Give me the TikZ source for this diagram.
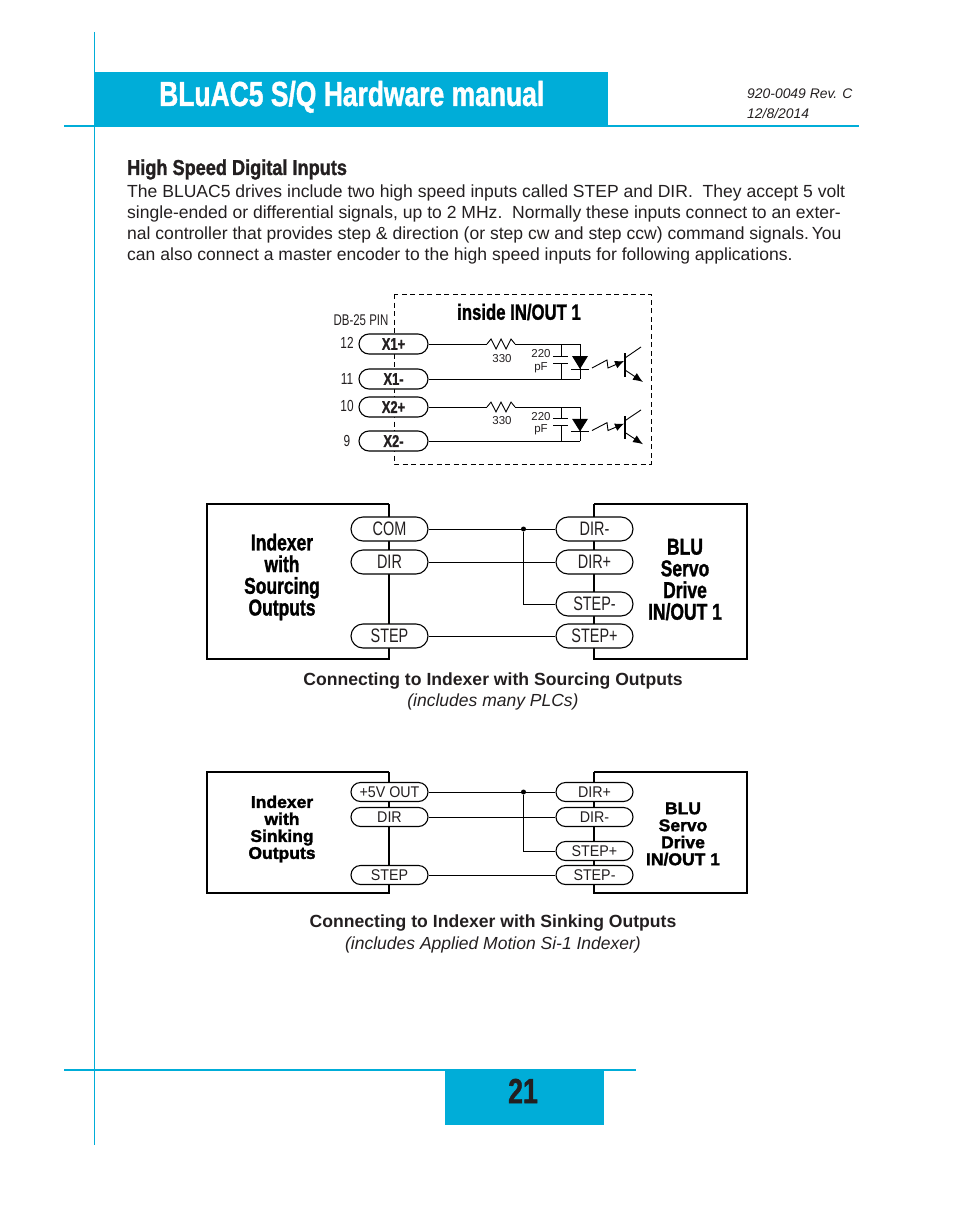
\documentclass[tikz,border=0pt]{standalone}
\usepackage{fontspec}
\setmainfont{Liberation Sans}
\newfontfamily\heavyfont[FakeStretch=0.76,FakeBold=1.2]{Liberation Sans Bold}
\newfontfamily\headfont[FakeStretch=0.84,FakeBold=1.2]{Liberation Sans Bold}
\newfontfamily\blackfont[FakeStretch=1.03,FakeBold=1.8]{Liberation Sans Bold}
\newfontfamily\thinfont[FakeStretch=0.74]{Liberation Sans}
\newfontfamily\plainfont[FakeStretch=0.92]{Liberation Sans}
\usetikzlibrary{calc,shapes.misc,arrows.meta}
\definecolor{blucyan}{RGB}{0,173,216}
\definecolor{ink}{RGB}{35,31,32}
\newcommand{\fsize}[1]{\fontsize{#1}{#1}\selectfont}

\tikzset{
  rule/.style={draw=blucyan,line width=1.3pt},
  band/.style={fill=blucyan},
  bodyline/.style={anchor=base west,inner sep=0,text=ink,font=\fsize{17.55}},
  caption/.style={inner sep=0,text=ink,font=\bfseries\fsize{17.6}},
  subcaption/.style={inner sep=0,text=ink,font=\itshape\fsize{17.5}},
  unit/.style={draw=black,line width=1.1pt},
  wire/.style={draw=black,line width=0.9pt},
  pill/.style={draw=black,fill=white,line width=1.1pt,rounded rectangle,inner sep=0,
    minimum width=77pt,minimum height=24pt,text=ink,font=\thinfont\fsize{19.5}},
  smallpill/.style={pill,minimum height=19pt,font=\plainfont\fsize{15.5}},
  pinpill/.style={pill,minimum width=69pt,minimum height=20pt,font=\heavyfont\fsize{17}},
  pinlabel/.style={inner sep=0,text=ink,font=\thinfont\fsize{16}},
  valuelabel/.style={inner sep=0,text=ink,font=\fsize{11.5}},
  bigtitle/.style={inner sep=0,align=center,text=black,font=\heavyfont\fontsize{23}{21.7}\selectfont},
  boldtitle/.style={inner sep=0,align=center,text=black,font=\blackfont\fontsize{17}{17}\selectfont},
  junction/.style={circle,fill=black,inner sep=0,minimum size=5pt},
}

% OPTO COUPLER, top wire at y=0, bottom wire at y=35
\newcommand{\optopart}{
  \draw[wire] (487,0)--(491,-5)--(496,5)--(501,-5)--(506,5)--(511,-5)--(515,0);
  \draw[wire] (561,0)--(561,12) (553,12)--(568,12);
  \draw[wire] (553,19)--(568,19) (561,19)--(561,35);
  \draw[wire] (580,0)--(580,35);
  \fill[black] (572,12)--(588,12)--(580,25)--cycle;
  \draw[wire] (571,25)--(589,25);
  \draw[wire,-{Latex[length=9pt,width=8pt]}] (592,24)--(607,16)--(608,24)--(624,17);
  \draw[line width=1.1pt] (625,9)--(625,33);
  \draw[wire] (625,14)--(641,3);
  \draw[wire,-{Latex[length=10pt,width=8pt]}] (625,26)--(643,38);
}

\begin{document}
\begin{tikzpicture}[x=1pt,y=-1pt]
  \useasboundingbox (0,0) rectangle (954,1209);

  % PAGE FRAME
  \fill[band] (95,72) rectangle (608,126);
  \fill[band] (445,1070) rectangle (604,1125);
  \draw[rule] (94.7,32)--(94.7,1145);
  \draw[rule] (64,126)--(859,126);
  \draw[rule] (64,1070)--(636,1070);
  \node[anchor=base west,inner sep=0,text=white,font=\heavyfont\fsize{34.8}] (title) at (159,106) {BLuAC5 S/Q Hardware manual};
  \node[anchor=base west,inner sep=0,text=ink,font=\itshape\fsize{13.9}] (revision) at (747,99) {920-0049 Rev. C};
  \node[anchor=base west,inner sep=0,text=ink,font=\itshape\fsize{13.9}] (revdate) at (747,119) {12/8/2014};
  \node[inner sep=0,text=ink,font=\heavyfont\fsize{35}] (pagenum) at (523,1091) {21};

  % TEXT
  \node[anchor=base west,inner sep=0,text=ink,font=\headfont\fsize{21.6}] (heading) at (127,175) {High Speed Digital Inputs};
  \node[bodyline] (lineA) at (127,197) {The BLUAC5 drives include two high speed inputs called STEP and DIR.\ \ They accept 5 volt};
  \node[bodyline] (lineB) at (127,218) {single-ended or differential signals, up to 2 MHz.\ \ Normally these inputs connect to an exter-};
  \node[bodyline] (lineC) at (127,239) {nal controller that provides step \& direction (or step cw and step ccw) command signals.\,You};
  \node[bodyline] (lineD) at (127,260) {can also connect a master encoder to the high speed inputs for following applications.};

  % INSIDE IN/OUT
  \draw[black,line width=1pt,dash pattern=on 5pt off 3.5pt] (394,294) rectangle (651,464);
  \node[inner sep=0,text=black,font=\heavyfont\fsize{22}] (inside) at (519,312) {inside IN/OUT 1};
  \node[pinlabel,font=\thinfont\fsize{15.5}] (dbpin) at (361,320) {DB-25 PIN};
  \node[pinpill] (xoneplus) at (393.5,344) {X1+};
  \node[pinpill] (xoneminus) at (393.5,379) {X1-};
  \node[pinpill] (xtwoplus) at (393.5,407) {X2+};
  \node[pinpill] (xtwominus) at (393.5,441) {X2-};
  \node[pinlabel] (pinA) at (347,343) {12};
  \node[pinlabel] (pinB) at (347,379) {11};
  \node[pinlabel] (pinC) at (347,406) {10};
  \node[pinlabel] (pinD) at (347,441) {9};
  \coordinate (resA) at (487,344);
  \coordinate (resB) at (515,344);
  \coordinate (ledA) at (580,344);
  \coordinate (ledB) at (580,379);
  \coordinate (resC) at (487,407);
  \coordinate (resD) at (515,407);
  \coordinate (ledC) at (580,407);
  \coordinate (ledD) at (580,441);
  \draw[wire] (xoneplus.east)--(resA) (resB)--(ledA);
  \draw[wire] (xoneminus.east)--(ledB);
  \draw[wire] (xtwoplus.east)--(resC) (resD)--(ledC);
  \draw[wire] (xtwominus.east)--(ledD);
  \begin{scope}[shift={(0,344)}]
    \optopart
  \end{scope}
  \begin{scope}[shift={(0,407)},yscale=0.98]
    \optopart
  \end{scope}
  \node[valuelabel] (resvalA) at (502,359) {330};
  \node[valuelabel] (capvalA) at (541,354) {220};
  \node[valuelabel] (capunitA) at (541,368) {pF};
  \node[valuelabel] (resvalB) at (502,421) {330};
  \node[valuelabel] (capvalB) at (541,417) {220};
  \node[valuelabel] (capunitB) at (541,430) {pF};

  % SOURCING
  \draw[unit] (389,504)-|(207,659)-|(389,504);
  \draw[unit] (594,504)-|(747,659)-|(594,504);
  \node[pill] (com) at (389.5,529) {COM};
  \node[pill] (dir) at (389.5,562) {DIR};
  \node[pill] (step) at (389.5,636) {STEP};
  \node[pill] (dirminus) at (594.5,529) {DIR-};
  \node[pill] (dirplus) at (594.5,562) {DIR+};
  \node[pill] (stepminus) at (594.5,604) {STEP-};
  \node[pill] (stepplus) at (594.5,636) {STEP+};
  \node[junction] (joint) at (523.5,529) {};
  \draw[wire] (com.east)--(dirminus.west);
  \draw[wire] (dir.east)--(dirplus.west);
  \draw[wire] (step.east)--(stepplus.west);
  \draw[wire] (joint)|-(stepminus.west);
  \node[bigtitle] (indexer) at (282,577) {Indexer\\with\\Sourcing\\Outputs};
  \node[bigtitle] (drive) at (685,579.5) {BLU\\Servo\\Drive\\IN/OUT 1};
  \node[caption] (capA) at (493,681) {Connecting to Indexer with Sourcing Outputs};
  \node[subcaption] (subA) at (493,702) {(includes many PLCs)};

  % SINKING
  \draw[unit] (389,772)-|(207,893)-|(389,772);
  \draw[unit] (594,772)-|(747,893)-|(594,772);
  \node[smallpill] (fivev) at (389.5,792) {+5V OUT};
  \node[smallpill] (dirB) at (389.5,817) {DIR};
  \node[smallpill] (stepB) at (389.5,875) {STEP};
  \node[smallpill] (dirplusB) at (594.5,792) {DIR+};
  \node[smallpill] (dirminusB) at (594.5,817) {DIR-};
  \node[smallpill] (stepplusB) at (594.5,851) {STEP+};
  \node[smallpill] (stepminusB) at (594.5,875) {STEP-};
  \node[junction] (jointB) at (523.5,792) {};
  \draw[wire] (fivev.east)--(dirplusB.west);
  \draw[wire] (dirB.east)--(dirminusB.west);
  \draw[wire] (stepB.east)--(stepminusB.west);
  \draw[wire] (jointB)|-(stepplusB.west);
  \node[boldtitle] (indexerB) at (282,829) {Indexer\\with\\Sinking\\Outputs};
  \node[boldtitle] (driveB) at (683,834) {BLU\\Servo\\Drive\\IN/OUT 1};
  \node[caption] (capB) at (493,923) {Connecting to Indexer with Sinking Outputs};
  \node[subcaption] (subB) at (493,945) {(includes Applied Motion Si-1 Indexer)};
\end{tikzpicture}
\end{document}
